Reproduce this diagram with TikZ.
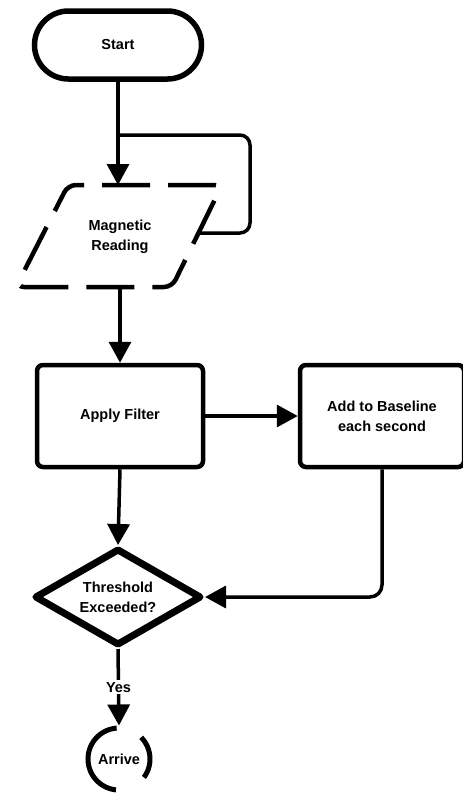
\documentclass[tikz,border=0pt]{standalone}
\usepackage{fontspec}
\setmainfont{Liberation Sans}
\usetikzlibrary{shapes.geometric,arrows.meta}
\begin{document}
\begin{tikzpicture}[x=1pt,y=1pt,
  lbl/.style={font=\fontsize{14.5}{20}\selectfont\bfseries, align=center},
  conn/.style={line width=3.5pt, -{Triangle[length=21pt,width=22pt]}, line join=round},
  plain/.style={line width=3.5pt, line join=round, rounded corners=10pt},
  boxnode/.style={lbl, draw, line width=4.5pt, rounded corners=6pt, minimum width=166pt, minimum height=102pt}]
\useasboundingbox (0,0) rectangle (463,-793);
% Start
\node[lbl, draw, line width=5.5pt, rounded corners=34pt, minimum width=167pt, minimum height=68pt] (start) at (118,-45) {Start};
% Magnetic Reading (parallelogram)
\coordinate (pTL) at (68,-185);
\coordinate (pTR) at (222,-185);
\coordinate (pBR) at (172,-287);
\coordinate (pBL) at (16,-287);
\draw[line width=4.5pt, dash pattern=on 48pt off 18pt, dash phase=40pt, rounded corners=8pt] (pTL) -- (pTR) -- (pBR) -- (pBL) -- cycle;
\node[lbl] (mag) at (120,-237) {Magnetic\\Reading};
\coordinate (ptop) at (118,-185);
\coordinate (pbot) at (120,-287);
\coordinate (pright) at (198,-233);
\coordinate (loopA) at (250,-233);
\coordinate (loopB) at (250,-135);
\coordinate (loopJ) at (118,-135);
% Apply Filter / Add to Baseline
\node[boxnode] (filter) at (120,-416) {Apply Filter};
\node[boxnode, minimum width=164pt] (base) at (382,-416) {Add to Baseline\\each second};
% Decision
\node[lbl, draw, shape=diamond, aspect=1.7, inner sep=0pt, line width=7pt, line join=round, minimum width=167pt, minimum height=97pt] (dec) at (118,-597) {Threshold\\Exceeded?};
% Arrive
\node[lbl, draw, circle, line width=5pt, dash pattern=on 44pt off 27pt on 92pt off 32pt, dash phase=20pt, minimum size=62pt, inner sep=0pt] (arrive) at (119,-759) {Arrive};
% connectors
\draw[conn] (start.south) -- (ptop);
\draw[plain] (pright) -- (loopA) -- (loopB) -- (loopJ);
\draw[conn] (pbot) -- (filter.north);
\draw[conn] (filter.east) -- (base.west);
\draw[conn] (filter.south) -- (dec.north);
\draw[conn, rounded corners=12pt] (base.south) |- (dec.east);
\draw[conn] (dec.south) -- node[lbl, fill=white, inner sep=2pt] {Yes} (arrive.north);
\end{tikzpicture}
\end{document}
